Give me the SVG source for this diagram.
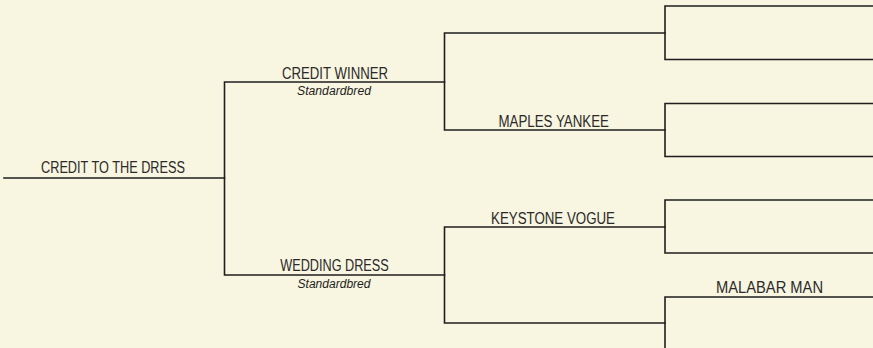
<svg xmlns="http://www.w3.org/2000/svg" width="873" height="348" viewBox="0 0 873 348">
<style>
.bg{fill:#F8F5E0}
.ln{stroke:#1e1e1e;stroke-width:1.6;fill:none;stroke-linecap:square}
.nm{font-family:"Liberation Sans",Arial,sans-serif;font-size:16px;fill:#2a2a2a;text-anchor:middle}
.br{font-family:"Liberation Sans",Arial,sans-serif;font-size:12.5px;font-style:italic;fill:#1e1e1e;text-anchor:middle}
</style>
<rect class="bg" x="0" y="0" width="873" height="348"/>
<g id="connectors">
<path class="ln" d="M4,178 H224.5"/>
<path class="ln" d="M224.5,82 V275 M224.5,82 H444.5 M224.5,275 H444.5"/>
<path class="ln" d="M444.5,33 V130 M444.5,33 H665 M444.5,130 H665"/>
<path class="ln" d="M444.5,227 V323 M444.5,227 H665 M444.5,323 H665"/>
<path class="ln" d="M665,6 V59.5 M665,6 H874 M665,59.5 H874"/>
<path class="ln" d="M665,103.5 V156.5 M665,103.5 H874 M665,156.5 H874"/>
<path class="ln" d="M665,200 V253 M665,200 H874 M665,253 H874"/>
<path class="ln" d="M665,297 V350 M665,297 H874"/>
</g>
<g id="node-root"><text class="nm" x="113" y="173" textLength="144" lengthAdjust="spacingAndGlyphs">CREDIT TO THE DRESS</text></g>
<g id="node-sire">
<text class="nm" x="335" y="79" textLength="106" lengthAdjust="spacingAndGlyphs">CREDIT WINNER</text>
<text class="br" x="334" y="95" textLength="74" lengthAdjust="spacingAndGlyphs">Standardbred</text>
</g>
<g id="node-dam">
<text class="nm" x="334.5" y="271" textLength="108.5" lengthAdjust="spacingAndGlyphs">WEDDING DRESS</text>
<text class="br" x="334" y="288" textLength="73" lengthAdjust="spacingAndGlyphs">Standardbred</text>
</g>
<g id="node-sire-sire"></g>
<g id="node-sire-dam"><text class="nm" x="553.7" y="126.5" textLength="110.5" lengthAdjust="spacingAndGlyphs">MAPLES YANKEE</text></g>
<g id="node-dam-sire"><text class="nm" x="553" y="224" textLength="124" lengthAdjust="spacingAndGlyphs">KEYSTONE VOGUE</text></g>
<g id="node-dam-dam"></g>
<g id="node-ddd-sire"><text class="nm" x="769.5" y="292.5" textLength="107" lengthAdjust="spacingAndGlyphs">MALABAR MAN</text></g>
</svg>
